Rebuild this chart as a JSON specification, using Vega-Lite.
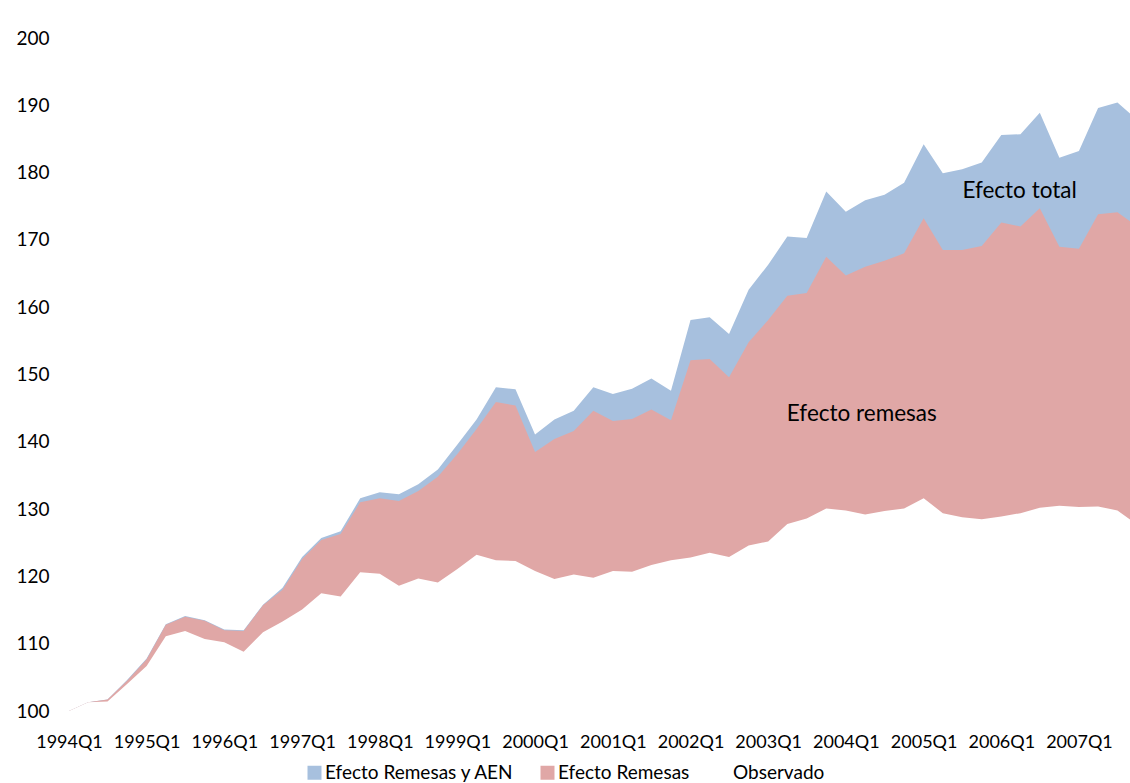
{
  "$schema": "https://vega.github.io/schema/vega-lite/v6.json",
  "width": 1061,
  "height": 673,
  "autosize": {"type": "none"},
  "padding": {"left": 69, "top": 38, "right": 0, "bottom": 72},
  "background": "white",
  "config": {"view": {"stroke": null}, "font": "Lato", "text": {"font": "Lato"}},
  "data": {"values": [
    {"q": "1994/01/01", "total": 100.0, "remesas": 100.0, "observado": 100.0},
    {"q": "1994/04/01", "total": 101.3, "remesas": 101.3, "observado": 101.3},
    {"q": "1994/07/01", "total": 101.7, "remesas": 101.7, "observado": 101.4},
    {"q": "1994/10/01", "total": 104.6, "remesas": 104.5, "observado": 104.0},
    {"q": "1995/01/01", "total": 107.8, "remesas": 107.7, "observado": 106.7},
    {"q": "1995/04/01", "total": 112.9, "remesas": 112.8, "observado": 111.1},
    {"q": "1995/07/01", "total": 114.1, "remesas": 114.0, "observado": 111.9},
    {"q": "1995/10/01", "total": 113.5, "remesas": 113.4, "observado": 110.7},
    {"q": "1996/01/01", "total": 112.1, "remesas": 112.0, "observado": 110.2},
    {"q": "1996/04/01", "total": 112.0, "remesas": 111.9, "observado": 108.8},
    {"q": "1996/07/01", "total": 115.8, "remesas": 115.7, "observado": 111.7},
    {"q": "1996/10/01", "total": 118.3, "remesas": 118.0, "observado": 113.3},
    {"q": "1997/01/01", "total": 122.9, "remesas": 122.6, "observado": 115.1},
    {"q": "1997/04/01", "total": 125.7, "remesas": 125.4, "observado": 117.5},
    {"q": "1997/07/01", "total": 126.7, "remesas": 126.3, "observado": 117.0},
    {"q": "1997/10/01", "total": 131.6, "remesas": 131.0, "observado": 120.6},
    {"q": "1998/01/01", "total": 132.5, "remesas": 131.6, "observado": 120.4},
    {"q": "1998/04/01", "total": 132.2, "remesas": 131.2, "observado": 118.6},
    {"q": "1998/07/01", "total": 133.7, "remesas": 132.7, "observado": 119.7},
    {"q": "1998/10/01", "total": 135.9, "remesas": 134.8, "observado": 119.1},
    {"q": "1999/01/01", "total": 139.6, "remesas": 138.2, "observado": 121.1},
    {"q": "1999/04/01", "total": 143.3, "remesas": 141.9, "observado": 123.2},
    {"q": "1999/07/01", "total": 148.1, "remesas": 145.9, "observado": 122.4},
    {"q": "1999/10/01", "total": 147.8, "remesas": 145.4, "observado": 122.3},
    {"q": "2000/01/01", "total": 141.1, "remesas": 138.5, "observado": 120.8},
    {"q": "2000/04/01", "total": 143.3, "remesas": 140.4, "observado": 119.6},
    {"q": "2000/07/01", "total": 144.6, "remesas": 141.6, "observado": 120.3},
    {"q": "2000/10/01", "total": 148.1, "remesas": 144.6, "observado": 119.8},
    {"q": "2001/01/01", "total": 147.1, "remesas": 143.1, "observado": 120.8},
    {"q": "2001/04/01", "total": 147.9, "remesas": 143.4, "observado": 120.7},
    {"q": "2001/07/01", "total": 149.4, "remesas": 144.8, "observado": 121.7},
    {"q": "2001/10/01", "total": 147.6, "remesas": 143.2, "observado": 122.4},
    {"q": "2002/01/01", "total": 158.1, "remesas": 152.1, "observado": 122.8},
    {"q": "2002/04/01", "total": 158.5, "remesas": 152.3, "observado": 123.5},
    {"q": "2002/07/01", "total": 156.0, "remesas": 149.6, "observado": 122.9},
    {"q": "2002/10/01", "total": 162.6, "remesas": 154.8, "observado": 124.6},
    {"q": "2003/01/01", "total": 166.3, "remesas": 158.1, "observado": 125.2},
    {"q": "2003/04/01", "total": 170.5, "remesas": 161.7, "observado": 127.8},
    {"q": "2003/07/01", "total": 170.3, "remesas": 162.1, "observado": 128.6},
    {"q": "2003/10/01", "total": 177.2, "remesas": 167.5, "observado": 130.1},
    {"q": "2004/01/01", "total": 174.2, "remesas": 164.7, "observado": 129.8},
    {"q": "2004/04/01", "total": 175.9, "remesas": 166.0, "observado": 129.2},
    {"q": "2004/07/01", "total": 176.7, "remesas": 166.9, "observado": 129.7},
    {"q": "2004/10/01", "total": 178.5, "remesas": 168.0, "observado": 130.1},
    {"q": "2005/01/01", "total": 184.2, "remesas": 173.2, "observado": 131.6},
    {"q": "2005/04/01", "total": 179.9, "remesas": 168.5, "observado": 129.4},
    {"q": "2005/07/01", "total": 180.5, "remesas": 168.5, "observado": 128.8},
    {"q": "2005/10/01", "total": 181.5, "remesas": 169.1, "observado": 128.5},
    {"q": "2006/01/01", "total": 185.6, "remesas": 172.6, "observado": 128.9},
    {"q": "2006/04/01", "total": 185.7, "remesas": 172.0, "observado": 129.4},
    {"q": "2006/07/01", "total": 188.9, "remesas": 174.7, "observado": 130.2},
    {"q": "2006/10/01", "total": 182.2, "remesas": 169.0, "observado": 130.5},
    {"q": "2007/01/01", "total": 183.2, "remesas": 168.7, "observado": 130.3},
    {"q": "2007/04/01", "total": 189.6, "remesas": 173.8, "observado": 130.4},
    {"q": "2007/07/01", "total": 190.4, "remesas": 174.1, "observado": 129.8},
    {"q": "2007/10/01", "total": 187.9, "remesas": 172.0, "observado": 127.7}
  ]},
  "encoding": {
    "x": {
      "field": "q",
      "type": "temporal",
      "scale": {"domain": [{"year": 1994, "month": 1, "date": 1}, {"year": 2007, "month": 8, "date": 29}]},
      "axis": {
        "title": null,
        "format": "%YQ%q",
        "values": [
          {"year": 1994, "month": 1, "date": 1}, {"year": 1995, "month": 1, "date": 1},
          {"year": 1996, "month": 1, "date": 1}, {"year": 1997, "month": 1, "date": 1},
          {"year": 1998, "month": 1, "date": 1}, {"year": 1999, "month": 1, "date": 1},
          {"year": 2000, "month": 1, "date": 1}, {"year": 2001, "month": 1, "date": 1},
          {"year": 2002, "month": 1, "date": 1}, {"year": 2003, "month": 1, "date": 1},
          {"year": 2004, "month": 1, "date": 1}, {"year": 2005, "month": 1, "date": 1},
          {"year": 2006, "month": 1, "date": 1}, {"year": 2007, "month": 1, "date": 1}
        ],
        "domain": false,
        "ticks": false,
        "tickSize": 0,
        "grid": false,
        "labelFontSize": 18,
        "labelColor": "#000000",
        "labelPadding": 22,
        "labelFlush": false,
        "labelOverlap": false
      }
    }
  },
  "layer": [
    {
      "mark": {"type": "area", "clip": true},
      "encoding": {
        "y": {
          "field": "total",
          "type": "quantitative",
          "scale": {"domain": [100, 200], "zero": false, "nice": false},
          "axis": {
            "title": null,
            "values": [100, 110, 120, 130, 140, 150, 160, 170, 180, 190, 200],
            "domain": false,
            "ticks": false,
            "tickSize": 0,
            "grid": false,
            "labelFontSize": 19,
            "labelColor": "#000000",
            "labelPadding": 20
          }
        },
        "color": {
          "datum": "Efecto Remesas y AEN",
          "scale": {
            "domain": ["Efecto Remesas y AEN", "Efecto Remesas", "Observado"],
            "range": ["#a7c0de", "#e0a7a6", "#ffffff"]
          },
          "legend": {
            "title": null,
            "orient": "none",
            "direction": "horizontal",
            "legendX": 236,
            "legendY": 725,
            "symbolType": "square",
            "symbolSize": 196,
            "symbolStrokeWidth": 0,
            "symbolOpacity": 1,
            "labelFontSize": 19,
            "labelColor": "#000000",
            "labelLimit": 0,
            "labelOffset": 1,
            "columnPadding": 23
          }
        }
      }
    },
    {
      "mark": {"type": "area", "clip": true},
      "encoding": {
        "y": {"field": "remesas", "type": "quantitative"},
        "color": {"datum": "Efecto Remesas"}
      }
    },
    {
      "mark": {"type": "area", "clip": true},
      "encoding": {
        "y": {"field": "observado", "type": "quantitative"},
        "color": {"datum": "Observado"}
      }
    },
    {
      "data": {"values": [
        {"q": "2006/03/28", "v": 177.2, "label": "Efecto total"},
        {"q": "2004/03/16", "v": 144.1, "label": "Efecto remesas"}
      ]},
      "mark": {"type": "text", "fontSize": 22.5, "color": "#000000", "align": "center", "baseline": "middle"},
      "encoding": {
        "x": {"field": "q", "type": "temporal"},
        "y": {"field": "v", "type": "quantitative"},
        "text": {"field": "label"}
      }
    }
  ]
}
